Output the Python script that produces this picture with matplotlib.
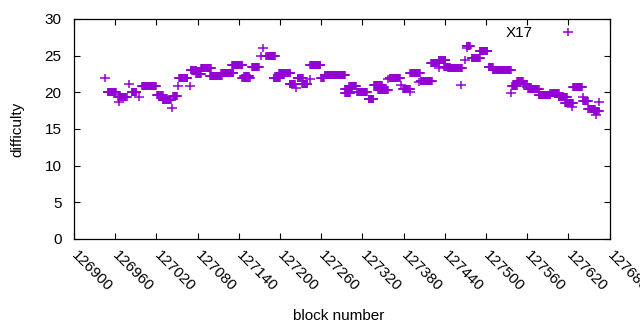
import numpy as np
import matplotlib
matplotlib.use("Agg")
import matplotlib.pyplot as plt
from matplotlib.path import Path

plt.rcParams['font.family'] = ['Liberation Sans', 'DejaVu Sans']

# Runs of consecutive blocks sharing the same X17 difficulty (start block, end block, difficulty)
run_start = [126945, 126949, 126966, 126964, 126980, 126984, 126994, 126999,
             127021, 127029, 127043, 127044, 127052, 127053, 127069, 127070,
             127078, 127085, 127098, 127114, 127130, 127145, 127148, 127159,
             127172, 127176, 127180, 127191, 127199, 127214, 127224, 127226,
             127232, 127244, 127244, 127260, 127265, 127295, 127301, 127295,
             127312, 127329, 127337, 127343, 127358, 127360, 127366, 127377,
             127379, 127390, 127390, 127403, 127405, 127420, 127431, 127431,
             127439, 127445, 127464, 127470, 127472, 127472, 127479, 127491,
             127504, 127510, 127537, 127538, 127545, 127554, 127562, 127577,
             127594, 127606, 127615, 127625, 127627, 127641, 127642, 127649,
             127657, 127661, 127664]
run_end = [126945, 126961, 126966, 126977, 126980, 126991, 126994, 127019,
           127029, 127041, 127043, 127050, 127052, 127065, 127069, 127078,
           127085, 127099, 127115, 127132, 127145, 127156, 127155, 127169,
           127172, 127176, 127193, 127200, 127215, 127222, 127224, 127233,
           127240, 127259, 127244, 127264, 127295, 127305, 127311, 127302,
           127327, 127336, 127348, 127357, 127358, 127370, 127375, 127377,
           127389, 127390, 127404, 127403, 127421, 127431, 127431, 127441,
           127447, 127465, 127464, 127470, 127472, 127477, 127491, 127502,
           127510, 127536, 127537, 127545, 127554, 127560, 127577, 127594,
           127606, 127618, 127627, 127625, 127640, 127641, 127648, 127659,
           127664, 127661, 127664]
run_value = [21.9, 20.0, 18.7, 19.3, 21.1, 20.0, 19.4, 20.85,
             19.6, 19.0, 17.8, 19.5, 20.9, 21.9, 20.9, 23.0,
             22.5, 23.3, 22.2, 22.7, 23.7, 22.0, 22.2, 23.5,
             24.9, 26.1, 25.0, 21.9, 22.6, 21.2, 20.6, 21.9,
             21.1, 23.7, 21.8, 22.0, 22.3, 20.4, 20.8, 19.9,
             20.1, 19.1, 21.0, 20.3, 21.8, 21.9, 22.0, 21.0,
             20.5, 20.0, 22.6, 21.4, 21.5, 24.0, 23.3, 24.4,
             23.5, 23.3, 21.0, 24.4, 26.0, 26.3, 24.7, 25.6,
             23.4, 23.0, 19.9, 20.9, 21.5, 21.1, 20.5, 19.7,
             19.9, 19.4, 18.6, 18.0, 20.7, 19.3, 18.8, 17.7,
             17.4, 16.9, 18.7]

x_ticks = [126900, 126960, 127020, 127080, 127140, 127200, 127260,
           127320, 127380, 127440, 127500, 127560, 127620, 127680]
y_ticks = [0, 5, 10, 15, 20, 25, 30]

blocks = []
diffs = []
for s, e, v in zip(run_start, run_end, run_value):
    for b in range(s, e + 1):
        blocks.append(b)
        diffs.append(v)

plus = Path([(-1, 0), (1, 0), (0, -0.78), (0, 0.78)],
            [Path.MOVETO, Path.LINETO, Path.MOVETO, Path.LINETO])

fig = plt.figure(figsize=(6.4, 3.3), dpi=100)
ax = fig.add_axes([74/640, 1 - 239/330, (609.5-74)/640, (239-19)/330])
ax.plot(blocks, diffs, linestyle='none', marker=plus, markersize=6.5,
        markeredgewidth=1.1, color='#9400D3', label='X17')

ax.set_xlim(126900, 127680)
ax.set_ylim(0, 30)
ax.set_xticks(x_ticks)
ax.set_yticks(y_ticks)
ax.set_xticklabels([str(t) for t in x_ticks], rotation=-45, ha='left', va='center',
                   rotation_mode='anchor', fontsize=11)
ax.set_yticklabels([str(t) for t in y_ticks], fontsize=11)
ax.tick_params(direction='in', length=4.5, width=0.8, top=True, right=True)
ax.tick_params(axis='y', pad=9)
ax.tick_params(axis='x', pad=10)
for sp in ax.spines.values():
    sp.set_linewidth(0.9)

ax.set_xlabel('block number', fontsize=11)
ax.xaxis.set_label_coords(0.495, -0.318)
ax.set_ylabel('difficulty', fontsize=11)
ax.yaxis.set_label_coords(-0.093, 0.5)

ax.legend(loc='upper right', frameon=False, markerfirst=False, fontsize=11,
          handlelength=1.5, handletextpad=1.6, borderaxespad=0.0,
          bbox_to_anchor=(0.956, 0.995))

fig.savefig('out.png', dpi=100)
